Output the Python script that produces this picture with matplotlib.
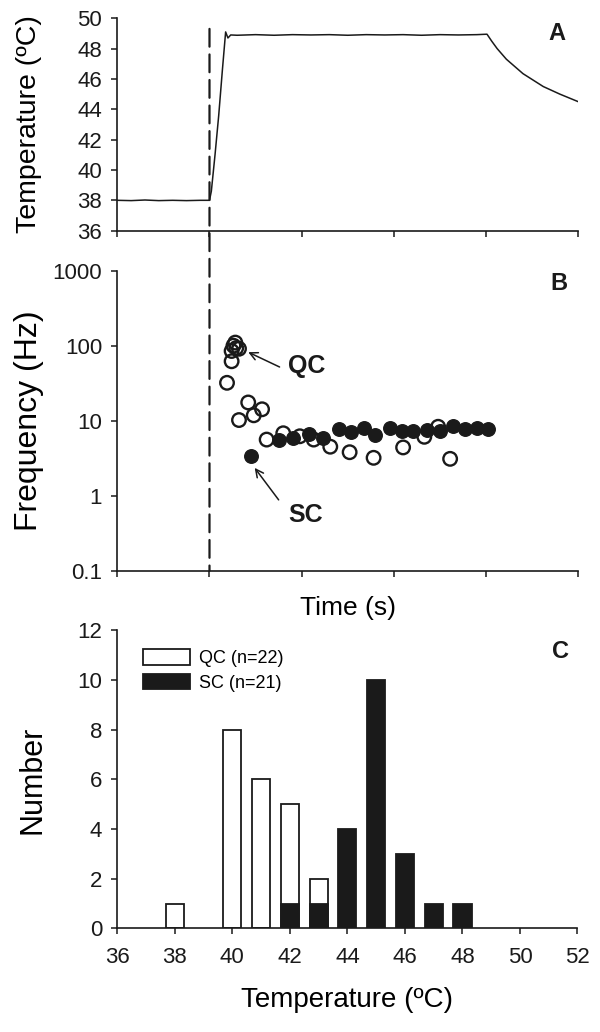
import matplotlib
matplotlib.use("Agg")
import matplotlib.pyplot as plt
from matplotlib.patches import ConnectionPatch, Patch
from matplotlib.ticker import FuncFormatter, NullLocator

plt.rcParams['font.family'] = ['Liberation Sans', 'DejaVu Sans']

# A: bath temperature trace (time in s, 0-500, ticks unlabelled)
time_a = [0, 15, 30, 45, 60, 75, 90, 100, 102, 106, 110, 114, 117.5, 120, 123,
          130, 150, 170, 190, 210, 230, 250, 270, 290, 310, 330, 350, 370, 390, 401,
          406, 412, 422, 440, 462, 480, 500]
temp_a = [38.0, 37.98, 38.02, 37.98, 38.0, 37.98, 38.0, 38.0, 38.6, 41.0, 43.6, 46.6, 49.1, 48.7, 48.9,
          48.88, 48.92, 48.88, 48.92, 48.9, 48.92, 48.88, 48.92, 48.9, 48.92, 48.88, 48.92, 48.9, 48.92, 48.95,
          48.5, 48.0, 47.3, 46.35, 45.5, 45.0, 44.5]
stim_time = 100

# B: firing frequency of quick (QC) and slow (SC) responding cells
qc_time = [124, 128, 129, 126, 132, 124, 119, 142, 157, 148, 132,
           162, 180, 198, 213, 231, 252, 278, 310, 333, 348, 361]
qc_freq = [85, 110, 93, 100, 91, 62, 32, 17.5, 14.2, 11.8, 10.2,
           5.6, 6.8, 6.2, 5.6, 4.5, 3.8, 3.2, 4.4, 6.1, 8.3, 3.1]
sc_time = [145, 175, 191, 208, 223, 240, 253, 268, 280, 296, 309, 321, 336, 350, 364, 377, 390, 402]
sc_freq = [3.4, 5.6, 5.9, 6.7, 5.9, 7.7, 7.1, 8.1, 6.4, 8.1, 7.3, 7.3, 7.5, 7.3, 8.5, 7.7, 8.1, 7.7]

# C: activation temperature histogram
qc_temp = [38, 40, 41, 42, 43]
qc_count = [1, 8, 6, 5, 2]
sc_temp = [42, 43, 44, 45, 46, 47, 48]
sc_count = [1, 1, 4, 10, 3, 1, 1]

ink = '#1a1a1a'
fig = plt.figure(figsize=(6, 10.32), dpi=100)
axA = fig.add_axes([0.1955, 0.7765, 0.7683, 0.2058])
axB = fig.add_axes([0.1955, 0.4470, 0.7683, 0.2907])
axC = fig.add_axes([0.1955, 0.1003, 0.7670, 0.2889])
axC.patch.set_alpha(0)


def style(ax):
    for s in ('top', 'right'):
        ax.spines[s].set_visible(False)
    for s in ('left', 'bottom'):
        ax.spines[s].set_linewidth(1.2)
        ax.spines[s].set_color(ink)
    ax.tick_params(direction='out', length=4, width=1.1, color=ink,
                   labelsize=16, labelcolor=ink)
    ax.tick_params(axis='y', pad=7)
    ax.tick_params(axis='x', pad=9)


# ---- panel A ----
style(axA)
axA.plot(time_a, temp_a, color=ink, lw=1.1)
axA.set_xlim(0, 500)
axA.set_ylim(36, 50)
axA.set_xticks(range(0, 501, 100))
axA.set_xticklabels([])
axA.set_yticks(range(36, 51, 2))
axA.set_ylabel('Temperature (ºC)', fontsize=20.5, va='center')
axA.yaxis.set_label_coords(-0.192, 0.5)
axA.text(0.953, 0.929, 'A', transform=axA.transAxes, fontsize=17,
         fontweight='bold', ha='center', va='center', color=ink)

# ---- panel B ----
style(axB)
axB.set_yscale('log')
axB.scatter(qc_time, qc_freq, s=95, facecolors='none', edgecolors=ink, linewidths=1.7, zorder=3)
axB.scatter(sc_time, sc_freq, s=95, facecolors=ink, edgecolors=ink, linewidths=1.0, zorder=4)
axB.set_xlim(0, 500)
axB.set_ylim(0.1, 1000)
axB.set_xticks(range(0, 501, 100))
axB.set_xticklabels([])
axB.set_yticks([0.1, 1, 10, 100, 1000])
axB.yaxis.set_minor_locator(NullLocator())
axB.yaxis.set_major_formatter(FuncFormatter(lambda v, p: f'{v:g}'))
axB.set_xlabel('Time (s)', fontsize=19, labelpad=5)
axB.set_ylabel('Frequency (Hz)', fontsize=23, va='center')
axB.yaxis.set_label_coords(-0.192, 0.5)
axB.text(0.959, 0.958, 'B', transform=axB.transAxes, fontsize=17,
         fontweight='bold', ha='center', va='center', color=ink)
arrow = dict(arrowstyle='->', color=ink, lw=1.1, shrinkA=0, shrinkB=0,
             mutation_scale=14)
axB.annotate('', xy=(142, 82), xytext=(176, 52), arrowprops=arrow)
axB.text(185, 54, 'QC', fontsize=18, fontweight='bold', color=ink, ha='left', va='center')
axB.annotate('', xy=(149, 2.35), xytext=(175, 0.88), arrowprops=arrow)
axB.text(185, 0.56, 'SC', fontsize=18, fontweight='bold', color=ink, ha='left', va='center')

# dashed stimulus-onset marker running through A and B
con = ConnectionPatch(xyA=(stim_time, 49.3), coordsA=axA.transData,
                      xyB=(stim_time, 0.1), coordsB=axB.transData,
                      color=ink, lw=1.6, linestyle=(0, (8, 3.5)))
fig.add_artist(con)

# ---- panel C ----
style(axC)
axC.bar(qc_temp, qc_count, width=0.63, color='white', edgecolor=ink, linewidth=1.3, zorder=2)
axC.bar(sc_temp, sc_count, width=0.63, color=ink, edgecolor=ink, linewidth=1.3, zorder=3)
axC.set_xlim(36, 52)
axC.set_ylim(0, 12)
axC.set_xticks(range(36, 53, 2))
axC.set_yticks(range(0, 13, 2))
axC.set_xlabel('Temperature (ºC)', fontsize=20, labelpad=14)
axC.set_ylabel('Number', fontsize=22, va='center')
axC.yaxis.set_label_coords(-0.185, 0.5)
axC.text(0.962, 0.928, 'C', transform=axC.transAxes, fontsize=17,
         fontweight='bold', ha='center', va='center', color=ink)
handles = [Patch(facecolor='white', edgecolor=ink, linewidth=1.3),
           Patch(facecolor=ink, edgecolor=ink, linewidth=1.3)]
axC.legend(handles, ['QC (n=22)', 'SC (n=21)'], loc='upper left',
           bbox_to_anchor=(0.04, 0.96), frameon=False, fontsize=13,
           handlelength=2.6, handleheight=0.95, handletextpad=0.5,
           labelspacing=0.35, borderaxespad=0)

fig.savefig('out.png', dpi=100)
